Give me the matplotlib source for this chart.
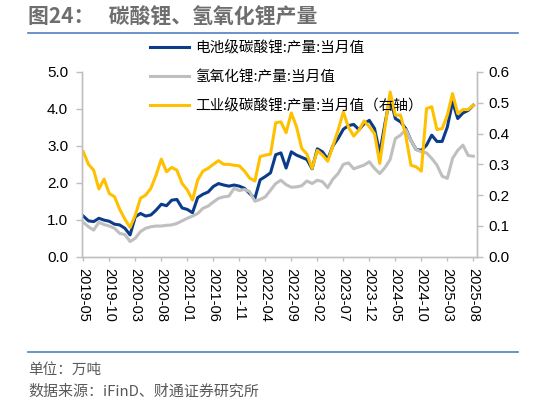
import numpy as np
import pandas as pd
import matplotlib
matplotlib.use('Agg')
import matplotlib.pyplot as plt
from matplotlib.lines import Line2D

plt.rcParams['font.family'] = ['Noto Sans CJK SC', 'DejaVu Sans']

months = pd.date_range('2019-05', periods=76, freq='MS').strftime('%Y-%m').tolist()

# 电池级碳酸锂 (万吨)
battery = [1.10, 0.97, 0.95, 1.04, 0.99, 0.96, 0.88, 0.86, 0.77, 0.59,
           1.08, 1.17, 1.10, 1.13, 1.26, 1.42, 1.38, 1.53, 1.55, 1.32,
           1.28, 1.19, 1.60, 1.69, 1.75, 1.90, 1.98, 1.94, 1.91, 1.94,
           1.91, 1.85, 1.71, 1.58, 2.08, 2.17, 2.27, 2.76, 2.81, 2.40,
           2.84, 2.75, 2.69, 2.63, 2.38, 2.92, 2.84, 2.64, 3.00, 3.20,
           3.45, 3.55, 3.58, 3.44, 3.60, 3.69, 3.47, 2.80, 3.60, 4.32,
           3.74, 3.65, 3.47, 3.15, 2.90, 2.88, 3.02, 3.29, 3.12, 3.12,
           3.51, 4.19, 3.74, 3.89, 3.96, 4.10]
# 氢氧化锂 (万吨)
hydroxide = [0.93, 0.81, 0.72, 0.93, 0.87, 0.83, 0.77, 0.63, 0.60, 0.41,
             0.50, 0.68, 0.77, 0.81, 0.83, 0.83, 0.85, 0.86, 0.90, 0.97,
             1.04, 1.10, 1.17, 1.31, 1.37, 1.48, 1.58, 1.62, 1.64, 1.85,
             1.79, 1.82, 1.76, 1.50, 1.55, 1.62, 1.80, 1.98, 2.07, 1.95,
             1.88, 1.89, 1.92, 2.05, 1.98, 2.07, 2.03, 1.87, 2.10, 2.25,
             2.50, 2.54, 2.38, 2.43, 2.48, 2.57, 2.39, 2.25, 2.41, 2.63,
             3.20, 3.29, 3.44, 3.15, 2.90, 2.84, 2.81, 2.66, 2.48, 2.18,
             2.12, 2.66, 2.88, 3.02, 2.74, 2.72]
# 工业级碳酸锂 (万吨, 右轴)
industrial = [0.341, 0.300, 0.281, 0.220, 0.252, 0.205, 0.195, 0.154, 0.122, 0.095,
              0.135, 0.190, 0.200, 0.222, 0.265, 0.317, 0.276, 0.290, 0.281, 0.238,
              0.217, 0.184, 0.249, 0.278, 0.287, 0.300, 0.312, 0.300, 0.300, 0.297,
              0.295, 0.278, 0.255, 0.246, 0.325, 0.330, 0.333, 0.435, 0.438, 0.403,
              0.467, 0.422, 0.352, 0.333, 0.287, 0.345, 0.330, 0.310, 0.360, 0.411,
              0.470, 0.420, 0.392, 0.411, 0.441, 0.422, 0.400, 0.303, 0.420, 0.535,
              0.460, 0.460, 0.394, 0.297, 0.292, 0.278, 0.481, 0.487, 0.413, 0.416,
              0.460, 0.530, 0.465, 0.478, 0.478, 0.492]

labels = ['电池级碳酸锂:产量:当月值', '氢氧化锂:产量:当月值', '工业级碳酸锂:产量:当月值（右轴）']
colors = ['#0B3C8C', '#BFBFBF', '#FFC000']

fig = plt.figure(figsize=(5.33, 4.04), dpi=100)
ax = fig.add_axes([0.1538, 0.3646, 0.8949 - 0.1538, 0.8218 - 0.3646])
ax2 = ax.twinx()

x = np.arange(len(months))
l1, = ax.plot(x, battery, color=colors[0], lw=2.2)
l2, = ax.plot(x, hydroxide, color=colors[1], lw=2.2)
l3, = ax2.plot(x, industrial, color=colors[2], lw=2.2)

ax.set_xlim(-0.25, 75.7)
ax.set_ylim(0, 5)
ax2.set_ylim(0, 0.6)
ax.set_yticks(np.arange(0, 5.01, 1.0))
ax.set_yticklabels([f'{v:.1f}' for v in np.arange(0, 5.01, 1.0)])
ax2.set_yticks(np.arange(0, 0.61, 0.1))
ax2.set_yticklabels([f'{v:.1f}' for v in np.arange(0, 0.61, 0.1)])
ax.set_xticks(x[::5])
ax.set_xticklabels(months[::5], rotation=-90, va='top', ha='center')

spine_c = '#BFBFBF'
for a in (ax, ax2):
    a.spines['top'].set_visible(False)
    for s in ('left', 'right', 'bottom'):
        a.spines[s].set_color(spine_c)
        a.spines[s].set_linewidth(1.0)
    a.tick_params(colors=spine_c, length=4, width=1.0, labelcolor='black')
    for t in a.get_yticklabels() + a.get_xticklabels():
        t.set_fontfamily('Liberation Sans')
        t.set_fontsize(11)
for t in ax.get_xticklabels():
    t.set_fontsize(10.5)
ax.tick_params(axis='x', length=3, pad=5)
ax.tick_params(axis='y', pad=6)
ax2.tick_params(axis='y', pad=4)

fig.legend([l1, l2, l3], labels, loc='upper left',
           bbox_to_anchor=(150 / 533, 1 - 41 / 404), frameon=False,
           fontsize=10.5, handlelength=2.7, handletextpad=0.4,
           labelspacing=1.0, borderaxespad=0, borderpad=0)

fig.text(28 / 533, 1 - 17 / 404, '图24：   碳酸锂、氢氧化锂产量', fontsize=15,
         fontweight='bold', color='#6E6E6E', va='center', ha='left')
fig.add_artist(Line2D([28 / 533, 518 / 533], [1 - 32.5 / 404] * 2,
                      color='#4F81BD', lw=1.2))
fig.add_artist(Line2D([28 / 533, 518 / 533], [1 - 351.5 / 404] * 2,
                      color='#4F81BD', lw=1.2))
fig.text(28 / 533, 1 - 370 / 404, '单位：万吨', fontsize=10.5,
         color='#595959', va='center', ha='left')
fig.text(28 / 533, 1 - 392 / 404, '数据来源：iFinD、财通证券研究所', fontsize=10.8,
         color='#595959', va='center', ha='left')

fig.savefig('out.png', dpi=100)
